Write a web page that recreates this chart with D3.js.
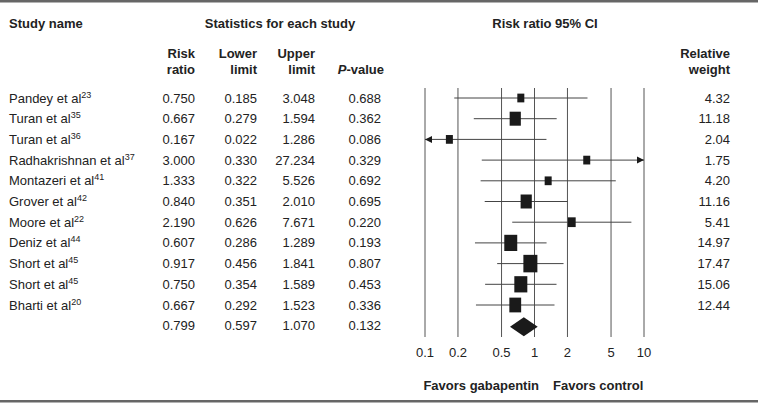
<!DOCTYPE html>
<html>
<head>
<meta charset="utf-8">
<script src="https://cdn.jsdelivr.net/npm/d3@7"></script>
<style>
    body { margin: 0; background: #fff; }
    svg text { font-family: "Liberation Sans", Arial, sans-serif; fill: #222; }
</style>
</head>
<body>
<svg id="chart" width="758" height="404"></svg>
<script>
// -- DATA --
const studies = ["Pandey et al", "Turan et al", "Turan et al", "Radhakrishnan et al", "Montazeri et al",
    "Grover et al", "Moore et al", "Deniz et al", "Short et al", "Short et al", "Bharti et al"];
const refs = ["23", "35", "36", "37", "41", "42", "22", "44", "45", "45", "20"];
const riskRatio = [0.750, 0.667, 0.167, 3.000, 1.333, 0.840, 2.190, 0.607, 0.917, 0.750, 0.667];
const lowerLimit = [0.185, 0.279, 0.022, 0.330, 0.322, 0.351, 0.626, 0.286, 0.456, 0.354, 0.292];
const upperLimit = [3.048, 1.594, 1.286, 27.234, 5.526, 2.010, 7.671, 1.289, 1.841, 1.589, 1.523];
const pValue = [0.688, 0.362, 0.086, 0.329, 0.692, 0.695, 0.220, 0.193, 0.807, 0.453, 0.336];
const weight = [4.32, 11.18, 2.04, 1.75, 4.20, 11.16, 5.41, 14.97, 17.47, 15.06, 12.44];
const summary = { rr: 0.799, lower: 0.597, upper: 1.070, p: 0.132 };
const ticks = [0.1, 0.2, 0.5, 1, 2, 5, 10];

const svg = d3.select("#chart");
const f3 = d3.format(".3f");
const f2 = d3.format(".2f");

// -- SCALES --
const x = d3.scaleLog().domain([0.1, 10]).range([425, 644]);
const y = d3.scalePoint().domain(d3.range(studies.length + 1)).range([98, 325.7]);
const side = d3.scaleSqrt().domain([0, d3.max(weight)]).range([0, 14]);

// -- BORDERS --
svg.append("rect").attr("x", 0).attr("y", 0).attr("width", 758).attr("height", 2.5).attr("fill", "#666");
svg.append("rect").attr("x", 0).attr("y", 400).attr("width", 758).attr("height", 2.5).attr("fill", "#666");

// -- HEADERS --
const head = svg.append("g").attr("font-weight", "bold").attr("font-size", 13);
head.append("text").attr("x", 9).attr("y", 28).text("Study name");
head.append("text").attr("x", 280).attr("y", 28).attr("text-anchor", "middle").text("Statistics for each study");
head.append("text").attr("x", 545).attr("y", 28).attr("text-anchor", "middle").text("Risk ratio 95% CI");

const colHeads = [
    { x: 195, l1: "Risk", l2: "ratio" },
    { x: 257, l1: "Lower", l2: "limit" },
    { x: 315, l1: "Upper", l2: "limit" },
    { x: 730, l1: "Relative", l2: "weight" }
];
colHeads.forEach(c => {
    head.append("text").attr("x", c.x).attr("y", 58).attr("text-anchor", "end").text(c.l1);
    head.append("text").attr("x", c.x).attr("y", 74).attr("text-anchor", "end").text(c.l2);
});
const pv = head.append("text").attr("x", 384).attr("y", 74).attr("text-anchor", "end");
pv.append("tspan").attr("font-style", "italic").text("P");
pv.append("tspan").text("-value");

// -- TABLE ROWS --
const rows = svg.append("g").attr("font-size", 13);
const name = rows.selectAll(".name").data(studies).enter().append("text")
    .attr("class", "name")
    .attr("x", 9)
    .attr("y", (d, i) => y(i) + 4.5);
name.append("tspan").text(d => d);
name.append("tspan").attr("font-size", 9).attr("dy", -5).text((d, i) => refs[i]);

const cols = [
    { x: 195, vals: riskRatio.concat([summary.rr]), fmt: f3 },
    { x: 257, vals: lowerLimit.concat([summary.lower]), fmt: f3 },
    { x: 315, vals: upperLimit.concat([summary.upper]), fmt: f3 },
    { x: 381, vals: pValue.concat([summary.p]), fmt: f3 },
    { x: 730, vals: weight, fmt: f2 }
];
cols.forEach(c => {
    rows.selectAll(null).data(c.vals).enter().append("text")
        .attr("x", c.x)
        .attr("y", (d, i) => y(i) + 4.5)
        .attr("text-anchor", "end")
        .text(d => c.fmt(d));
});

// -- GRID LINES --
svg.append("g").selectAll("line").data(ticks).enter().append("line")
    .attr("x1", d => x(d)).attr("x2", d => x(d))
    .attr("y1", 88).attr("y2", 337)
    .attr("stroke", "#555").attr("stroke-width", 1);

svg.append("g").attr("font-size", 13).selectAll("text").data(ticks).enter().append("text")
    .attr("x", d => x(d))
    .attr("y", 357)
    .attr("text-anchor", "middle")
    .text(d => d);

// -- CONFIDENCE INTERVALS --
const [xmin, xmax] = x.domain();
const ci = svg.append("g");
ci.selectAll("line").data(riskRatio).enter().append("line")
    .attr("x1", (d, i) => x(Math.max(lowerLimit[i], xmin)))
    .attr("x2", (d, i) => x(Math.min(upperLimit[i], xmax)))
    .attr("y1", (d, i) => y(i)).attr("y2", (d, i) => y(i))
    .attr("stroke", "#444").attr("stroke-width", 1);

// arrows where the interval leaves the axis
riskRatio.forEach((d, i) => {
    if (lowerLimit[i] < xmin) {
        const tx = x(xmin), ty = y(i);
        ci.append("path").attr("d", `M${tx},${ty}L${tx + 7},${ty - 3.5}L${tx + 7},${ty + 3.5}Z`).attr("fill", "#1a1a1a");
    }
    if (upperLimit[i] > xmax) {
        const tx = x(xmax), ty = y(i);
        ci.append("path").attr("d", `M${tx},${ty}L${tx - 7},${ty - 3.5}L${tx - 7},${ty + 3.5}Z`).attr("fill", "#1a1a1a");
    }
});

// -- SQUARES --
svg.append("g").selectAll("rect").data(riskRatio).enter().append("rect")
    .each(function (d, i) {
        const w = Math.max(7, side(weight[i]));
        const h = w * 1.25;
        d3.select(this)
            .attr("x", x(d) - w / 2)
            .attr("y", y(i) - h / 2)
            .attr("width", w)
            .attr("height", h);
    })
    .attr("fill", "#1a1a1a");

// -- SUMMARY DIAMOND --
const sy = y(studies.length) + 1;
svg.append("path")
    .attr("d", `M${x(summary.lower)},${sy}L${x(summary.rr)},${sy - 9.5}L${x(summary.upper)},${sy}L${x(summary.rr)},${sy + 9.5}Z`)
    .attr("fill", "#1a1a1a");

// -- FAVORS --
const fav = svg.append("g").attr("font-weight", "bold").attr("font-size", 13);
fav.append("text").attr("x", 539).attr("y", 390).attr("text-anchor", "end").text("Favors gabapentin");
fav.append("text").attr("x", 553).attr("y", 390).text("Favors control");
</script>
</body>
</html>
